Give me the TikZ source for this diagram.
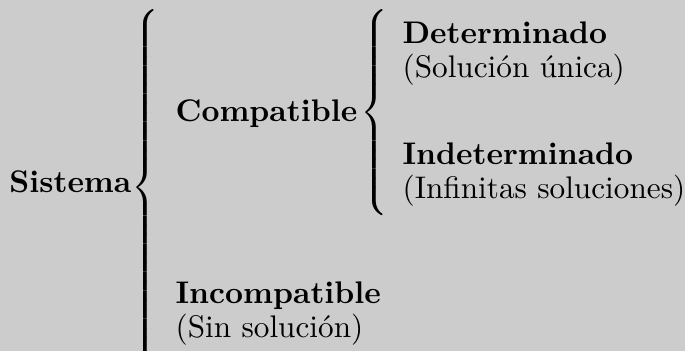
\documentclass[tikz,border=0pt]{standalone}
\usepackage{fontspec}
\definecolor{bgGray}{RGB}{204,204,204}
\newcommand{\bigBrace}[1]{\delimitershortfall=0pt\delimiterfactor=1000
  $\left\{\vcenter{\hbox{\rule{0pt}{#1}}}\right.$}

\begin{document}
\begin{tikzpicture}[x=0.32pt,y=-0.32pt,
  title/.style={anchor=base west,inner sep=0pt,font=\bfseries},
  note/.style={anchor=base west,inner sep=0pt},
  brace/.style={anchor=west,inner sep=0pt}]
\pgfmathsetmacro{\lineGap}{34}
\fill[bgGray] (0,0) rectangle (685,351);
\useasboundingbox (0,0) rectangle (685,351);

% first level
\node[title,anchor=base east] (sistema) at (132,193) {Sistema};
\node[brace] (braceA) at (131,188) {\bigBrace{110pt}};
\node[title] (compatible) at (175,122) {Compatible};
\node[title] (incompatible) at (175,304) {Incompatible};
\node[note] (sinSol) at (175,304+\lineGap) {(Sin solución)};

% second level
\node[brace] (braceB) at (360,113) {\bigBrace{61pt}};
\foreach \y/\name/\title/\note in {44/det/Determinado/Solución única,
    165/indet/Indeterminado/Infinitas soluciones} {
  \node[title] (\name) at (402,\y) {\title};
  \node[note] (\name Note) at (402,\y+\lineGap) {(\note)};
}
\end{tikzpicture}
\end{document}
